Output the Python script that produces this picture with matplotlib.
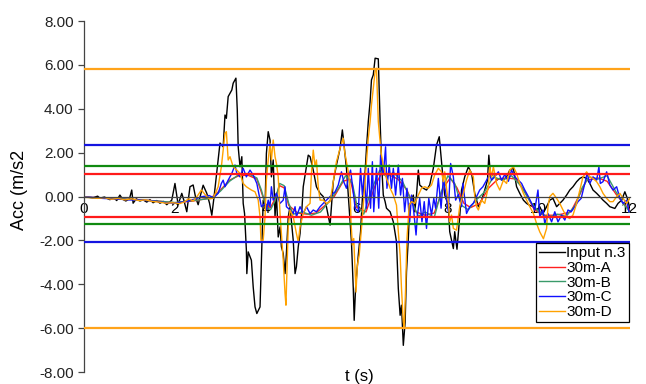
import numpy as np
import matplotlib
matplotlib.use('Agg')
import matplotlib.pyplot as plt

plt.rcParams['font.family'] = ['Liberation Sans', 'DejaVu Sans']

# Input n.3 (black)
t_in = [0.00, 0.10, 0.20, 0.30, 0.35, 0.45, 0.57, 0.65, 0.72, 0.79, 0.85, 0.92, 1.00, 1.05, 1.08,
        1.15, 1.23, 1.30, 1.38, 1.45, 1.52, 1.60, 1.67, 1.75, 1.82, 1.88, 1.93, 2.00, 2.07, 2.15,
        2.20, 2.26, 2.33, 2.40, 2.45, 2.51, 2.58, 2.62, 2.70, 2.76, 2.81, 2.86, 2.95, 2.99, 3.06,
        3.10, 3.13, 3.17, 3.25, 3.28, 3.34, 3.37, 3.39, 3.43, 3.47, 3.50, 3.53, 3.57, 3.58, 3.61,
        3.68, 3.72, 3.76, 3.80, 3.87, 3.90, 3.94, 3.98, 4.01, 4.05, 4.09, 4.12, 4.16, 4.20, 4.23,
        4.27, 4.31, 4.34, 4.38, 4.42, 4.45, 4.49, 4.53, 4.60, 4.64, 4.67, 4.71, 4.75, 4.79, 4.82,
        4.89, 4.93, 4.97, 5.04, 5.11, 5.19, 5.26, 5.33, 5.41, 5.48, 5.55, 5.63, 5.68, 5.71, 5.77,
        5.81, 5.85, 5.88, 5.92, 5.94, 5.97, 6.03, 6.08, 6.12, 6.18, 6.21, 6.25, 6.29, 6.32, 6.36,
        6.40, 6.47, 6.51, 6.54, 6.58, 6.62, 6.65, 6.73, 6.80, 6.87, 6.91, 6.95, 6.98, 7.02, 7.06,
        7.09, 7.13, 7.16, 7.24, 7.27, 7.31, 7.35, 7.38, 7.46, 7.53, 7.60, 7.68, 7.75, 7.81, 7.86,
        7.90, 7.93, 8.01, 8.04, 8.12, 8.15, 8.20, 8.26, 8.30, 8.37, 8.45, 8.52, 8.59, 8.67, 8.74,
        8.81, 8.87, 8.90, 8.94, 9.00, 9.07, 9.14, 9.22, 9.29, 9.36, 9.44, 9.51, 9.58, 9.66, 9.73,
        9.80, 9.88, 9.95, 10.02, 10.09, 10.17, 10.24, 10.31, 10.39, 10.46, 10.53, 10.61, 10.68,
        10.75, 10.83, 10.90, 10.97, 11.05, 11.12, 11.19, 11.27, 11.34, 11.41, 11.49, 11.56, 11.67,
        11.74, 11.82, 11.89, 11.96, 12.00]
a_in = [-0.02, -0.03, -0.05, 0.02, -0.07, -0.02, -0.14, -0.05, -0.18, 0.07, -0.12, -0.20, -0.10, 0.30, -0.30,
        -0.10, -0.20, -0.15, -0.25, -0.14, -0.28, -0.18, -0.30, -0.22, -0.37, -0.25, -0.16, 0.60, -0.37, 0.15,
        -0.20, -0.69, 0.45, 0.53, 0.00, -0.37, 0.22, 0.52, 0.15, -0.30, -0.85, 0.00, 1.67, 2.44, 2.27,
        3.72, 3.57, 4.56, 4.86, 5.17, 5.40, 3.95, 2.27, 1.36, 1.82, -0.31, -0.77, -2.44, -3.51, -2.52,
        -2.90, -4.12, -5.03, -5.33, -5.03, -2.90, -0.16, -0.46, 1.97, 2.96, 2.58, 0.90, 1.67, -0.92, 0.15,
        -1.84, -1.38, -2.29, -2.59, -3.51, -2.59, -0.92, -0.46, -1.99, -3.51, -3.20, -2.29, -1.68, -0.61, 0.45,
        1.36, 1.89, 1.82, 1.21, 0.45, 0.15, 0.00, -0.46, -1.30, 0.68, 1.44, 2.20, 3.04, 2.50, 1.29,
        0.07, -1.15, -2.06, -4.19, -5.64, -4.19, -2.67, -1.60, -0.08, 1.13, 2.20, 3.42, 4.33, 5.32, 5.55,
        6.31, 6.28, 3.42, 1.59, 0.07, -0.23, -0.53, -0.69, -1.15, -2.06, -4.19, -5.41, -4.95, -6.78, -5.72,
        -3.43, -1.91, -0.39, 0.07, -0.69, 0.07, 1.21, 0.53, 0.38, 0.30, 0.53, 1.29, 2.35, 2.73, 1.59,
        0.68, 0.07, -0.39, -1.60, -2.37, -1.60, -2.40, -0.92, 0.30, 0.90, 1.36, 1.06, 0.15, -0.46, -0.16,
        0.30, 0.75, 1.89, 0.90, 1.06, 0.75, 0.83, 0.75, 0.90, 1.21, 1.29, 0.45, 0.15, -0.16, -0.31,
        -0.40, -0.46, -0.61, -0.46, -0.77, -0.46, -0.16, -0.08, -0.46, -0.31, -0.16, 0.07, 0.30,
        0.45, 0.68, 0.83, 0.90, 0.83, 0.60, 0.30, 0.15, 0.00, -0.16, -0.31, -0.46, -0.54,
        -0.31, -0.16, 0.22, -0.16, -0.61]

# 30m-A (red)
t_a = [0.0, 0.4, 0.8, 1.2, 1.6, 2.0, 2.4, 2.8, 3.0, 3.2, 3.4, 3.6, 3.8, 3.9, 4.0, 4.1, 4.2, 4.3, 4.4,
       4.5, 4.7, 4.9, 5.1, 5.3, 5.5, 5.7, 5.85, 6.0, 6.2, 6.4, 6.55, 6.7, 6.9, 7.1, 7.3, 7.5, 7.7,
       7.9, 8.05, 8.2, 8.35, 8.5, 8.7, 8.9, 9.1, 9.3, 9.5, 9.7, 9.9, 10.1, 10.3, 10.5, 10.7, 10.9,
       11.05, 11.3, 11.5, 11.7, 11.9, 12.0]
a_a = [-0.02, -0.06, -0.10, -0.14, -0.20, -0.28, -0.20, -0.05, 0.30, 0.75, 0.95, 0.98, 0.80, 0.20, -0.40, -0.50, -0.10, 0.50, 0.40,
       -0.40, -0.75, -0.80, -0.75, -0.40, 0.00, 0.70, 0.80, -0.50, -0.70, 0.50, 1.10, 1.00, 0.80, 0.30, -0.70, -0.85, -0.75,
       0.40, 0.85, 0.40, -0.30, -0.50, -0.30, 0.40, 0.80, 0.85, 0.80, 0.20, -0.60, -0.85, -0.85, -0.80, -0.70, 0.10,
       0.75, 0.85, 0.70, 0.10, -0.40, -0.60]

# 30m-B (green)
t_b = [0.0, 0.4, 0.8, 1.2, 1.6, 2.0, 2.4, 2.8, 3.0, 3.2, 3.4, 3.6, 3.8, 3.9, 4.0, 4.1, 4.2, 4.3, 4.4,
       4.5, 4.6, 4.8, 5.0, 5.2, 5.4, 5.6, 5.75, 5.9, 6.0, 6.15, 6.3, 6.5, 6.65, 6.8, 7.0, 7.2, 7.35,
       7.5, 7.7, 7.85, 8.0, 8.15, 8.3, 8.45, 8.6, 8.8, 9.0, 9.2, 9.4, 9.6, 9.8, 10.0, 10.2, 10.4,
       10.6, 10.8, 10.95, 11.1, 11.3, 11.5, 11.7, 11.85, 12.0]
a_b = [-0.02, -0.07, -0.10, -0.15, -0.20, -0.27, -0.18, -0.08, 0.25, 0.70, 1.00, 1.05, 0.85, 0.30, -0.45, -0.60, -0.20, 0.60, 0.50,
       -0.30, -0.80, -0.70, -0.85, -0.70, -0.20, 0.40, 0.95, 0.60, -0.40, -0.80, 0.20, 1.20, 0.90, 1.10, 0.70, -0.20, -0.90,
       -0.70, -0.95, 0.20, 0.95, 0.60, -0.40, -0.60, -0.20, 0.20, 0.90, 0.75, 0.95, 0.50, -0.20, -0.70, -0.95, -0.80,
       -0.90, -0.40, 0.40, 0.90, 0.80, 0.95, 0.20, -0.30, -0.70]

# 30m-C (blue)
t_c = [0.00, 0.20, 0.40, 0.60, 0.80, 1.00, 1.20, 1.40, 1.60, 1.80, 2.00, 2.15, 2.30, 2.45, 2.60, 2.75,
       2.85, 2.95, 3.02, 3.06, 3.10, 3.17, 3.25, 3.32, 3.36, 3.43, 3.50, 3.57, 3.65, 3.72, 3.80, 3.87,
       3.90, 3.98, 4.01, 4.05, 4.09, 4.12, 4.16, 4.23, 4.31, 4.38, 4.42, 4.45, 4.53, 4.60, 4.64, 4.67,
       4.75, 4.82, 4.89, 4.97, 5.04, 5.11, 5.19, 5.26, 5.33, 5.41, 5.48, 5.52, 5.59, 5.66, 5.71, 5.77,
       5.81, 5.86, 5.91, 5.96, 6.03, 6.08, 6.12, 6.16, 6.21, 6.25, 6.30, 6.34, 6.37, 6.43, 6.48, 6.52,
       6.58, 6.63, 6.66, 6.71, 6.76, 6.80, 6.85, 6.91, 6.96, 7.00, 7.05, 7.10, 7.16, 7.20, 7.25, 7.30,
       7.33, 7.38, 7.43, 7.48, 7.53, 7.58, 7.64, 7.69, 7.73, 7.79, 7.85, 7.90, 7.96, 8.01, 8.06, 8.12,
       8.17, 8.23, 8.30, 8.33, 8.41, 8.48, 8.56, 8.63, 8.70, 8.77, 8.85, 8.92, 8.96, 9.03, 9.11, 9.18,
       9.25, 9.33, 9.40, 9.47, 9.55, 9.62, 9.69, 9.77, 9.84, 9.91, 9.98, 10.02, 10.09, 10.13, 10.20,
       10.28, 10.35, 10.42, 10.50, 10.57, 10.64, 10.71, 10.79, 10.86, 10.93, 11.01, 11.06, 11.12,
       11.19, 11.27, 11.32, 11.35, 11.41, 11.49, 11.56, 11.63, 11.71, 11.78, 11.85, 11.93, 11.98]
a_c = [-0.02, -0.04, -0.08, -0.10, -0.12, -0.15, -0.15, -0.18, -0.22, -0.28, -0.30, -0.25, -0.20, -0.10, 0.00, 0.05,
       -0.05, 0.15, 0.60, 0.75, 0.45, 0.75, 1.06, 1.44, 1.06, 0.90, 1.29, 0.90, 1.21, 0.98, 0.60, -0.16,
       -0.46, -0.31, -0.61, -0.16, -0.46, 0.45, -0.16, 0.15, -0.31, -0.16, 0.45, -0.46, -0.61, -0.77, -0.46, -0.92,
       -0.46, -0.77, -0.46, -0.77, -0.61, -0.69, -0.46, -0.31, -0.16, 0.00, 0.15, 0.22, 0.53, 1.13, 0.68, 0.38,
       0.83, 1.21, 0.38, -0.53, -0.69, 1.29, 0.07, 0.99, -0.53, 1.29, -0.53, 1.59, -0.69, 1.29, -0.53, 1.89,
       0.99, 2.27, 0.38, 1.44, 0.38, 1.29, 0.07, 1.44, 0.07, 0.83, -0.69, 0.38, -1.15, 0.07, -0.69, -1.75,
       -0.84, -0.08, -1.15, -0.23, -1.45, -0.08, -0.84, -0.08, -0.53, 0.83, -0.53, 0.83, 0.07, -0.69, 1.51, 0.90,
       -0.16, 0.10, -0.46, 0.60, -0.77, -0.46, -0.30, 0.00, 0.30, 0.45, 0.75, 1.00, 0.75, 0.90, 1.13, 0.75,
       1.00, 0.70, 1.21, 0.90, 0.75, 0.60, 0.30, 0.00, -0.30, -0.61, 0.30, -0.92, -0.61, -1.23, -0.77,
       -1.15, -0.69, -1.15, -0.84, -1.07, -0.61, -0.69, -0.46, -0.23, -0.08, 0.60, 1.06, 0.60,
       0.90, 0.75, 1.36, 0.60, 0.68, 1.13, 0.53, 0.30, 0.45, -0.08, -0.31, -0.16, -0.69]

# 30m-D (orange)
t_d = [0.00, 0.15, 0.30, 0.45, 0.60, 0.75, 0.90, 1.05, 1.20, 1.35, 1.50, 1.65, 1.80, 1.95, 2.10, 2.20,
       2.30, 2.40, 2.50, 2.58, 2.66, 2.75, 2.84, 2.95, 3.02, 3.10, 3.13, 3.17, 3.21, 3.28, 3.36, 3.43,
       3.50, 3.57, 3.68, 3.76, 3.83, 3.87, 3.89, 3.94, 3.98, 4.01, 4.05, 4.09, 4.12, 4.16, 4.20, 4.23,
       4.27, 4.31, 4.34, 4.38, 4.42, 4.44, 4.47, 4.49, 4.53, 4.60, 4.67, 4.71, 4.75, 4.82, 4.89, 4.97,
       5.00, 5.04, 5.08, 5.11, 5.15, 5.19, 5.26, 5.33, 5.41, 5.48, 5.55, 5.63, 5.70, 5.73, 5.77, 5.81,
       5.85, 5.87, 5.90, 5.93, 5.98, 6.01, 6.05, 6.10, 6.14, 6.18, 6.21, 6.25, 6.29, 6.32, 6.36, 6.40,
       6.43, 6.47, 6.51, 6.54, 6.58, 6.65, 6.73, 6.80, 6.87, 6.91, 6.95, 6.98, 7.02, 7.04, 7.07, 7.10,
       7.15, 7.20, 7.27, 7.35, 7.42, 7.49, 7.57, 7.64, 7.71, 7.79, 7.86, 7.90, 7.93, 7.97, 8.01, 8.04,
       8.08, 8.12, 8.19, 8.26, 8.34, 8.41, 8.48, 8.56, 8.59, 8.63, 8.67, 8.74, 8.81, 8.89, 8.92, 8.96,
       9.00, 9.07, 9.14, 9.22, 9.29, 9.36, 9.44, 9.51, 9.58, 9.66, 9.73, 9.80, 9.88, 9.95, 10.02, 10.10,
       10.17, 10.20, 10.24, 10.31, 10.39, 10.46, 10.53, 10.61, 10.68, 10.75, 10.83, 10.90, 10.97,
       11.05, 11.12, 11.19, 11.27, 11.34, 11.41, 11.49, 11.56, 11.63, 11.71, 11.78, 11.85, 11.93, 12.00]
a_d = [-0.03, -0.05, -0.08, -0.05, -0.12, -0.08, -0.15, -0.10, -0.18, -0.15, -0.22, -0.25, -0.30, -0.28, -0.32, -0.25,
       -0.10, -0.20, 0.05, 0.30, 0.10, -0.10, -0.08, 0.45, 1.36, 2.89, 2.96, 1.67, 1.82, 1.36, 1.21, 1.06,
       0.60, 0.45, 0.30, 0.22, -0.16, -0.92, -1.99, -1.99, -0.92, 0.75, 1.67, 2.43, 1.67, 2.58, 1.82, 1.52,
       0.90, -0.77, -1.68, -2.90, -4.42, -4.95, -2.90, -1.38, -0.61, -0.92, -1.68, -2.06, -1.38, -0.77, -0.46, -0.31,
       1.06, 2.12, 1.36, 1.67, 0.45, -0.16, -0.16, -0.31, -0.23, 0.68, 1.59, 2.20, 2.66, 2.05, 1.59, 1.13,
       0.38, -1.15, -2.21, -1.91, -4.35, -3.13, -2.67, -1.45, -0.39, 0.68, 1.59, 2.66, 3.42, 4.18, 4.94, 5.70,
       5.85, 3.42, 2.50, 1.89, 1.44, 0.83, 0.38, 0.07, -0.39, -1.60, -2.67, -4.19, -5.72, -6.00, -4.19, -1.91,
       -0.39, -0.23, -0.31, 0.07, 0.38, 0.45, 0.38, 0.53, 0.99, 1.29, 1.13, 0.68, 1.13, 0.38, -0.23, -1.15,
       -0.84, -1.45, -1.53, -0.46, 0.15, 0.75, 1.21, 0.90, 0.00, -0.46, -0.61, -0.16, -0.31, 0.45, 1.36, 0.90,
       1.36, 0.60, 0.30, 0.75, 0.60, 1.21, 1.36, 1.06, 0.60, 0.15, -0.16, -0.46, -0.77, -1.23, -1.61, -1.92,
       -1.45, -0.46, 0.00, 0.15, -0.08, -0.31, -0.61, -0.92, -1.00, -0.84, -0.31, 0.30, 0.90,
       1.13, 0.90, 0.83, 0.68, 0.45, 0.15, -0.08, -0.23, -0.23, 0.00, 0.15, -0.08, -0.31, -0.08]

# limit lines (upper, lower) for each 30m case
lim_a = [1.04, -0.92]
lim_b = [1.39, -1.24]
lim_c = [2.35, -2.06]
lim_d = [5.82, -5.99]

fig = plt.figure(figsize=(6.46, 3.84), dpi=100)
ax = fig.add_axes([0.130, 0.031, 0.845, 0.914])

ax.plot(t_in, a_in, color='black', lw=1.0, label='Input n.3')
ax.plot(t_a, a_a, color='#ff2020', lw=1.0, label='30m-A')
ax.plot(t_b, a_b, color='#3a9a6a', lw=1.0, label='30m-B')
ax.plot(t_c, a_c, color='#1010ff', lw=1.0, label='30m-C')
ax.plot(t_d, a_d, color='#ffa200', lw=1.0, label='30m-D')

for y in lim_a:
    ax.axhline(y, color='#ff1a1a', lw=1.6, zorder=3)
for y in lim_b:
    ax.axhline(y, color='#108a10', lw=1.6, zorder=3)
for y in lim_c:
    ax.axhline(y, color='#1414e0', lw=1.6, zorder=3)
for y in lim_d:
    ax.axhline(y, color='#ffa31a', lw=1.6, zorder=3)

ax.set_xlim(0, 12)
ax.set_ylim(-8, 8)
ax.set_xticks([0, 2, 4, 6, 8, 10, 12])
ax.set_yticks([-8, -6, -4, -2, 0, 2, 4, 6, 8])
ax.set_yticklabels(['%.2f' % v for v in ax.get_yticks()])

ax.spines['top'].set_visible(False)
ax.spines['right'].set_visible(False)
ax.spines['bottom'].set_position(('data', 0))
ax.spines['bottom'].set_color('#444444')
ax.spines['bottom'].set_linewidth(0.9)
ax.spines['left'].set_color('#444444')
ax.spines['left'].set_linewidth(0.9)

ax.tick_params(axis='x', length=0, pad=4, labelsize=11)
ax.tick_params(axis='y', length=4, width=0.9, color='#444444', labelsize=11, labelcolor='#222222')

ax.set_ylabel('Acc (m/s2', fontsize=13)
ax.yaxis.set_label_coords(-0.102, 0.52)
ax.set_xlabel('t (s)', fontsize=12)
ax.xaxis.set_label_coords(0.505, 0.008)

leg = ax.legend(loc='lower right', bbox_to_anchor=(0.998, 0.142), fontsize=11,
                frameon=True, fancybox=False, edgecolor='black', framealpha=1,
                borderaxespad=0, handlelength=1.7, handletextpad=0.1,
                labelspacing=0.05, borderpad=0.2)
leg.get_frame().set_linewidth(0.9)

fig.savefig('out.png', dpi=100)
